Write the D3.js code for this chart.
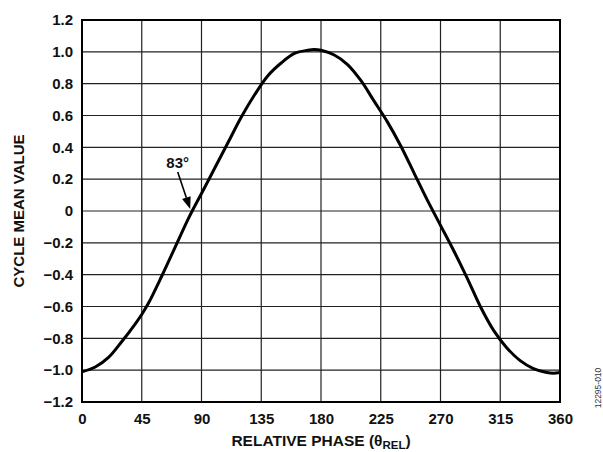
<!DOCTYPE html>
<html>
<head>
<meta charset="utf-8">
<script src="https://cdn.jsdelivr.net/npm/d3@7"></script>
<style>
  html, body { margin: 0; padding: 0; background: #fff; }
  svg { display: block; }
  text { font-family: "Liberation Sans", Arial, Helvetica, sans-serif; }
</style>
</head>
<body>
<svg id="chart" width="603" height="452"></svg>
<script>
// Relative phase (degrees) and cycle mean value
const phaseDeg = [0, 10, 20, 30, 40, 45, 50, 60, 70, 80, 83, 90, 100, 110, 120, 130, 140, 150, 160, 170, 175,
                  180, 190, 200, 210, 220, 230, 240, 250, 260, 270, 280, 290, 300, 310, 320, 330, 340, 350, 355, 360];
const meanValue = [-1.01, -0.98, -0.92, -0.82, -0.71, -0.65, -0.58, -0.41, -0.23, -0.05, 0.0, 0.11, 0.27, 0.43, 0.59, 0.73, 0.85, 0.93, 0.99, 1.01, 1.015,
                   1.01, 0.98, 0.92, 0.82, 0.69, 0.56, 0.41, 0.24, 0.07, -0.09, -0.25, -0.42, -0.60, -0.75, -0.86, -0.94, -0.99, -1.015, -1.02, -1.015];

const xTicks = [0, 45, 90, 135, 180, 225, 270, 315, 360];
const yTicks = [-1.2, -1.0, -0.8, -0.6, -0.4, -0.2, 0, 0.2, 0.4, 0.6, 0.8, 1.0, 1.2];

const callout = { phase: 83, value: 0, label: "83°" };

const margin = { left: 82, top: 20, right: 43, bottom: 50 };
const W = 603, H = 452;
const innerW = W - margin.left - margin.right;
const innerH = H - margin.top - margin.bottom;
const FONT = 15;

const svg = d3.select("#chart");
const g = svg.append("g").attr("transform", `translate(${margin.left},${margin.top})`);

const x = d3.scaleLinear().domain([0, 360]).range([0, innerW]);
const y = d3.scaleLinear().domain([-1.2, 1.2]).range([innerH, 0]);

const fmtY = v => v === 0 ? "0" : d3.format(".1f")(v).replace("-", "\u2013");

// grid
g.append("g").selectAll("line").data(xTicks.slice(1, -1)).join("line")
  .attr("x1", d => x(d)).attr("x2", d => x(d)).attr("y1", 0).attr("y2", innerH)
  .attr("stroke", "#222").attr("stroke-width", 1.2);
g.append("g").selectAll("line").data(yTicks.slice(1, -1)).join("line")
  .attr("y1", d => y(d)).attr("y2", d => y(d)).attr("x1", 0).attr("x2", innerW)
  .attr("stroke", "#222").attr("stroke-width", 1.2);

// axes (labels only, frame drawn separately)
const xAxis = g.append("g").attr("transform", `translate(0,${innerH})`)
  .call(d3.axisBottom(x).tickValues(xTicks).tickSize(0).tickPadding(11).tickFormat(d3.format("d")));
const yAxis = g.append("g")
  .call(d3.axisLeft(y).tickValues(yTicks).tickSize(0).tickPadding(9).tickFormat(fmtY));
[xAxis, yAxis].forEach(a => {
  a.select(".domain").remove();
  a.selectAll("text").attr("font-size", FONT).attr("font-weight", "bold").attr("fill", "#111")
    .attr("font-family", "'Liberation Sans', Arial, sans-serif");
});

// frame
g.append("rect").attr("x", 0).attr("y", 0).attr("width", innerW).attr("height", innerH)
  .attr("fill", "none").attr("stroke", "#000").attr("stroke-width", 2);

// curve
const line = d3.line().x((d, i) => x(phaseDeg[i])).y((d, i) => y(meanValue[i])).curve(d3.curveCatmullRom.alpha(0.5));
g.append("path").datum(meanValue).attr("d", line)
  .attr("fill", "none").attr("stroke", "#000").attr("stroke-width", 3).attr("stroke-linejoin", "round");

// callout arrow
const tipX = x(callout.phase) - 2, tipY = y(callout.value) - 2;
const startX = tipX - 12.5, startY = tipY - 37;
const ang = Math.atan2(tipY - startY, tipX - startX);
const headLen = 12, headW = 4.5;
const bx = tipX - headLen * Math.cos(ang), by = tipY - headLen * Math.sin(ang);
g.append("line").attr("x1", startX).attr("y1", startY).attr("x2", bx).attr("y2", by)
  .attr("stroke", "#000").attr("stroke-width", 1.6);
g.append("path")
  .attr("d", `M${tipX},${tipY} L${bx + headW * Math.sin(ang)},${by - headW * Math.cos(ang)} L${bx - headW * Math.sin(ang)},${by + headW * Math.cos(ang)} Z`)
  .attr("fill", "#000");
g.append("text").attr("x", startX).attr("y", startY - 4).attr("text-anchor", "middle")
  .attr("font-size", FONT).attr("font-weight", "bold").attr("fill", "#111").text(callout.label);

// axis titles
svg.append("text")
  .attr("transform", `translate(24,${margin.top + innerH / 2}) rotate(-90)`)
  .attr("text-anchor", "middle").attr("font-size", FONT).attr("font-weight", "bold").attr("fill", "#111")
  .text("CYCLE MEAN VALUE");

const xt = svg.append("text")
  .attr("x", margin.left + innerW / 2).attr("y", 446)
  .attr("text-anchor", "middle").attr("font-size", 15.5).attr("font-weight", "bold").attr("fill", "#111");
xt.append("tspan").text("RELATIVE PHASE (\u03B8");
xt.append("tspan").attr("font-size", 11.5).attr("dy", 3).text("REL");
xt.append("tspan").attr("dy", -3).text(")");

// figure id
svg.append("text")
  .attr("transform", `translate(601,388) rotate(-90)`)
  .attr("text-anchor", "middle").attr("font-size", 8.5).attr("fill", "#333")
  .text("12295-010");
</script>
</body>
</html>
